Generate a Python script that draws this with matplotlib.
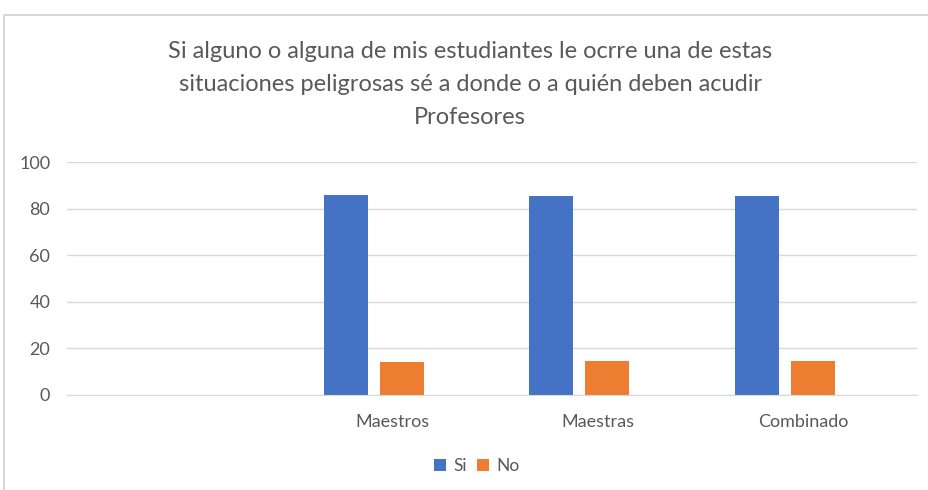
import numpy as np
import matplotlib.pyplot as plt
from matplotlib.patches import Rectangle

# data
categories = ['', 'Maestros', 'Maestras', 'Combinado']
si_values = [np.nan, 85.7, 85.3, 85.4]
no_values = [np.nan, 14.3, 14.7, 14.6]
series_names = ['Si', 'No']
title = ('Si alguno o alguna de mis estudiantes le ocrre una de estas\n'
         'situaciones peligrosas sé a donde o a quién deben acudir\n'
         'Profesores')

plt.rcParams['font.family'] = ['Lato', 'DejaVu Sans']
text_col = '#595959'
grid_col = '#d9d9d9'

fig = plt.figure(figsize=(9.29, 4.9), dpi=100)
ax = fig.add_axes([0.072, 0.194, 0.915, 0.475])

# chart frame (cut off on right and bottom as in the screenshot)
fig.patches.append(Rectangle((4/929, -0.1), 1.2, 1 - 15/490 + 0.1,
                             transform=fig.transFigure, fill=False,
                             edgecolor='#d0d0d0', linewidth=1.2))

x = np.arange(len(categories))
w = 0.214
ax.bar(x - 0.226, si_values, width=w, color='#4472C4', label=series_names[0], zorder=3)
ax.bar(x + 0.046, no_values, width=w, color='#ED7D31', label=series_names[1], zorder=3)

ax.set_xlim(-0.583, 3.552)
ax.set_ylim(0, 100)
ax.set_yticks(np.arange(0, 101, 20))
ax.set_xticks(x)
ax.set_xticklabels(categories)
ax.grid(axis='y', color=grid_col, linewidth=1, zorder=0)
for s in ['top', 'right', 'left']:
    ax.spines[s].set_visible(False)
ax.spines['bottom'].set_color(grid_col)
ax.spines['bottom'].set_zorder(4)
ax.tick_params(length=0, labelsize=13, labelcolor=text_col)
ax.tick_params(axis='y', pad=12)
ax.tick_params(axis='x', pad=14)

fig.text(0.506, 0.917, title, ha='center', va='top', fontsize=17,
         color=text_col, linespacing=1.72)

fig.legend(loc='center', bbox_to_anchor=(0.513, 0.048), ncol=2, frameon=False,
           fontsize=12.5, labelcolor=text_col, handlelength=0.7, handleheight=0.7,
           handletextpad=0.4, columnspacing=0.6)

plt.savefig('out.png', dpi=100)
